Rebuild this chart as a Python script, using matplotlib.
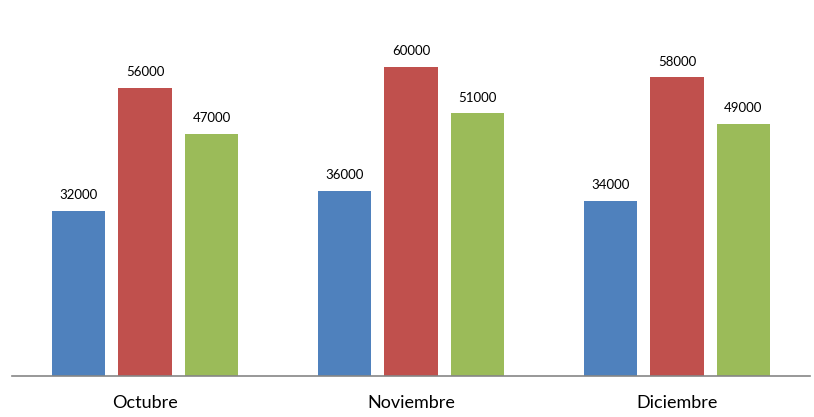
import matplotlib.pyplot as plt
import numpy as np

# --- datos ---
meses = ['Octubre', 'Noviembre', 'Diciembre']
serie_1 = [32000, 36000, 34000]
serie_2 = [56000, 60000, 58000]
serie_3 = [47000, 51000, 49000]

colores = ['#4F81BD', '#C0504D', '#9BBB59']
ANCHO = 0.2
PASO = 0.25

plt.rcParams['font.family'] = ['Lato', 'DejaVu Sans']

fig = plt.figure(figsize=(8.14, 4.17), dpi=100)
ax = fig.add_axes([12 / 814, 1 - 376 / 417, 798 / 814, 376 / 417])

x = np.arange(len(meses))
for k, (serie, color) in enumerate(zip([serie_1, serie_2, serie_3], colores)):
    pos = x + (k - 1) * PASO
    barras = ax.bar(pos, serie, width=ANCHO, color=color, zorder=2)
    for b, v in zip(barras, serie):
        ax.annotate(str(v), (b.get_x() + b.get_width() / 2, v),
                    xytext=(0, 7), textcoords='offset points',
                    ha='center', va='bottom', fontsize=9.5, color='black')

ax.set_xlim(-0.5, 2.5)
ax.set_ylim(0, 73000)
ax.set_xticks(x)
ax.set_xticklabels(meses, fontsize=13)
ax.tick_params(axis='x', length=0, pad=13.5)
ax.set_yticks([])
for s in ['top', 'right', 'left']:
    ax.spines[s].set_visible(False)
ax.spines['bottom'].set_color('#868686')
ax.spines['bottom'].set_linewidth(1.2)

fig.savefig('out.png', dpi=100)
